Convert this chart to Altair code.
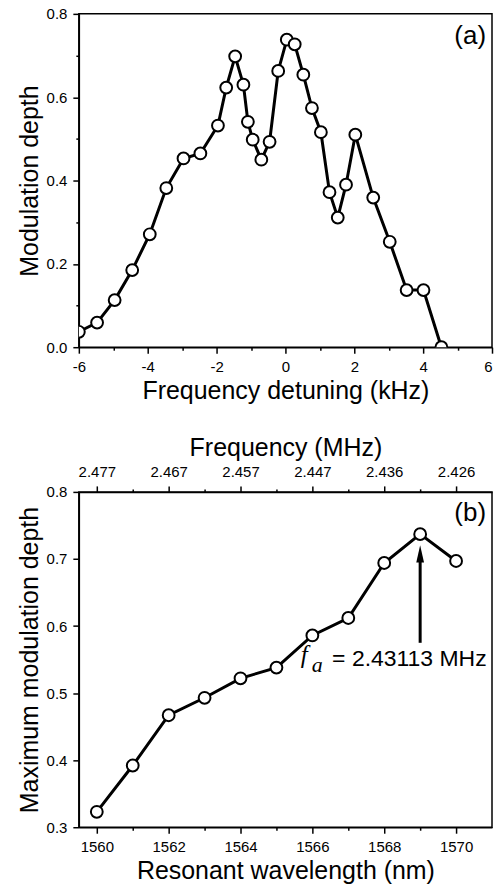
import altair as alt
import pandas as pd

# ---------------- data: panel (a) ----------------
detuning_khz = [-6.0, -5.47, -4.96, -4.45, -3.94, -3.46, -2.96, -2.47, -1.96, -1.72,
                -1.46, -1.22, -1.09, -0.95, -0.70, -0.46, -0.21, 0.04, 0.27, 0.52,
                0.77, 1.03, 1.28, 1.52, 1.76, 2.03, 2.55, 3.03, 3.52, 4.01, 4.53]
mod_depth = [0.037, 0.059, 0.113, 0.185, 0.271, 0.382, 0.453, 0.465, 0.532, 0.623,
             0.698, 0.630, 0.541, 0.498, 0.450, 0.493, 0.663, 0.738, 0.727, 0.654,
             0.574, 0.516, 0.372, 0.311, 0.390, 0.510, 0.359, 0.253, 0.137, 0.137, 0.0]

# ---------------- data: panel (b) ----------------
wavelength_nm = [1560, 1561, 1562, 1563, 1564, 1565, 1566, 1567, 1568, 1569, 1570]
max_depth = [0.323, 0.392, 0.467, 0.493, 0.522, 0.538, 0.586, 0.612, 0.694, 0.737, 0.697]

# top axis of panel (b): wavelength tick -> frequency label
top_tick_wl = [1560, 1562, 1564, 1566, 1568, 1570]
top_tick_freq = ["2.477", "2.467", "2.457", "2.447", "2.436", "2.426"]

# annotation (arrow + label) in data units
arrow_x = [1569]
arrow_y0 = [0.575]
arrow_y1 = [0.700]
arrow_head_y = [0.7075]
ann_text = ["= 2.43113 MHz"]
ann_x = [1570.85]
ann_y = [0.541]
ann_f_x = [1565.68]
ann_f_y = [0.545]
ann_a_x = [1565.98]
ann_a_y = [0.532]

FONT = "Liberation Sans"
W = 414
H_A = 334
H_B = 336

df_a = pd.DataFrame({"x": detuning_khz, "y": mod_depth})
df_b = pd.DataFrame({"x": wavelength_nm, "y": max_depth})

# ---------------- panel (a) ----------------
xa_scale = alt.Scale(domain=[-6, 6], nice=False, zero=False)
ya_scale = alt.Scale(domain=[0, 0.8], nice=False)

xa_axis = alt.Axis(
    title="Frequency detuning (kHz)",
    values=list(range(-6, 7)),
    labelExpr="datum.value % 2 == 0 ? (datum.value < 0 ? '-' + abs(datum.value) : '' + datum.value) : ''",
    tickSize={"condition": {"test": "datum.value % 2 == 0", "value": 6}, "value": 3},
    labelAlign={"condition": {"test": "datum.value == 6", "value": "right"}, "value": "center"},
    grid=False,
)
ya_axis = alt.Axis(
    title="Modulation depth",
    values=[0, 0.1, 0.2, 0.3, 0.4, 0.5, 0.6, 0.7, 0.8],
    labelExpr="round(datum.value * 10) % 2 == 0 ? format(datum.value, '.1f') : ''",
    tickSize={"condition": {"test": "round(datum.value * 10) % 2 == 0", "value": 6}, "value": 3},
    grid=False,
)

base_a = alt.Chart(df_a).encode(
    x=alt.X("x:Q", scale=xa_scale, axis=xa_axis),
    y=alt.Y("y:Q", scale=ya_scale, axis=ya_axis),
)
line_a = base_a.mark_line(color="black", strokeWidth=3, clip=True)
pts_a = base_a.mark_point(shape="circle", filled=True, fill="white", stroke="black",
                          strokeWidth=2, size=140, opacity=1, clip=True)
label_a = alt.Chart(pd.DataFrame({"t": ["(a)"]})).mark_text(
    font=FONT, fontSize=26, align="right", baseline="top", color="black"
).encode(text="t:N", x=alt.value(W - 6), y=alt.value(9))

panel_a = alt.layer(line_a, pts_a, label_a).properties(width=W, height=H_A)

# ---------------- panel (b) ----------------
xb_scale = alt.Scale(domain=[1559.5, 1571.0], nice=False, zero=False)
yb_scale = alt.Scale(domain=[0.3, 0.8], nice=False, zero=False)

xb_axis = alt.Axis(
    title="Resonant wavelength (nm)",
    values=list(range(1560, 1571)),
    labelExpr="datum.value % 2 == 0 ? '' + datum.value : ''",
    tickSize={"condition": {"test": "datum.value % 2 == 0", "value": 6}, "value": 3},
    grid=False,
)
yb_axis = alt.Axis(
    title="Maximum modulation depth",
    values=[0.3, 0.35, 0.4, 0.45, 0.5, 0.55, 0.6, 0.65, 0.7, 0.75, 0.8],
    labelExpr="round(datum.value * 100) % 10 == 0 ? format(datum.value, '.1f') : ''",
    tickSize={"condition": {"test": "round(datum.value * 100) % 10 == 0", "value": 6}, "value": 3},
    grid=False,
)

freq_expr = "''"
for wl, lab in reversed(list(zip(top_tick_wl, top_tick_freq))):
    freq_expr = f"datum.value == {wl} ? '{lab}' : ({freq_expr})"

xtop_axis = alt.Axis(
    title="Frequency (MHz)",
    orient="top",
    values=list(range(1560, 1571)),
    labelExpr=freq_expr,
    tickSize={"condition": {"test": "datum.value % 2 == 0", "value": 6}, "value": 3},
    grid=False,
)

XB = alt.X("x:Q", scale=xb_scale)
YB = alt.Y("y:Q", scale=yb_scale)

line_b = alt.Chart(df_b).mark_line(color="black", strokeWidth=3, clip=True).encode(
    x=alt.X("x:Q", scale=xb_scale, axis=xb_axis),
    y=alt.Y("y:Q", scale=yb_scale, axis=yb_axis),
)
pts_b = alt.Chart(df_b).mark_point(shape="circle", filled=True, fill="white", stroke="black",
                                   strokeWidth=2, size=140, opacity=1, clip=True).encode(x=XB, y=YB)

df_arrow = pd.DataFrame({"x": arrow_x, "y": arrow_y0, "y2": arrow_y1})
arrow_rule = alt.Chart(df_arrow).mark_rule(color="black", strokeWidth=3).encode(
    x=XB, y=YB, y2="y2:Q",
)
df_head = pd.DataFrame({"x": arrow_x, "y": arrow_head_y})
arrow_head = alt.Chart(df_head).mark_point(
    shape="M0,-1L0.45,1L-0.45,1Z", filled=True, color="black", size=300, opacity=1
).encode(x=XB, y=YB)

df_ann = pd.DataFrame({"x": ann_x, "y": ann_y, "t": ann_text})
ann_main = alt.Chart(df_ann).mark_text(
    font=FONT, fontSize=23, align="right", baseline="alphabetic", color="black"
).encode(x=XB, y=YB, text="t:N")
df_f = pd.DataFrame({"x": ann_f_x, "y": ann_f_y, "t": ["f"]})
ann_f = alt.Chart(df_f).mark_text(
    font="Liberation Serif", fontStyle="italic", fontSize=25, align="left",
    baseline="alphabetic", color="black"
).encode(x=XB, y=YB, text="t:N")
df_sub = pd.DataFrame({"x": ann_a_x, "y": ann_a_y, "t": ["a"]})
ann_sub = alt.Chart(df_sub).mark_text(
    font="Liberation Serif", fontStyle="italic", fontSize=22, align="left",
    baseline="alphabetic", color="black"
).encode(x=XB, y=YB, text="t:N")

label_b = alt.Chart(pd.DataFrame({"t": ["(b)"]})).mark_text(
    font=FONT, fontSize=26, align="right", baseline="top", color="black"
).encode(text="t:N", x=alt.value(W - 6), y=alt.value(8))

main_b = alt.layer(line_b, pts_b, arrow_rule, arrow_head, ann_main, ann_f, ann_sub, label_b)

top_axis_layer = alt.Chart(df_b).mark_point(opacity=0).encode(
    x=alt.X("x:Q", scale=xb_scale, axis=xtop_axis),
    y=YB,
)

panel_b = alt.layer(main_b, top_axis_layer).resolve_axis(x="independent").properties(
    width=W, height=H_B
)

chart = alt.vconcat(panel_a, panel_b, spacing=31).properties(
    padding={"left": 16, "top": 5, "right": 0, "bottom": 2},
    background="white",
).configure_view(
    stroke="black", strokeWidth=1.5
).configure_axis(
    domainColor="black", domainWidth=1.5, tickColor="black", tickWidth=1.5,
    labelColor="black", titleColor="black", labelFont=FONT, titleFont=FONT,
    labelFontSize=15, titleFontSize=25, titleFontWeight="normal",
    labelPadding=6, titlePadding=4,
)

chart.save("out.html", embed_options={"renderer": "svg", "actions": False})
